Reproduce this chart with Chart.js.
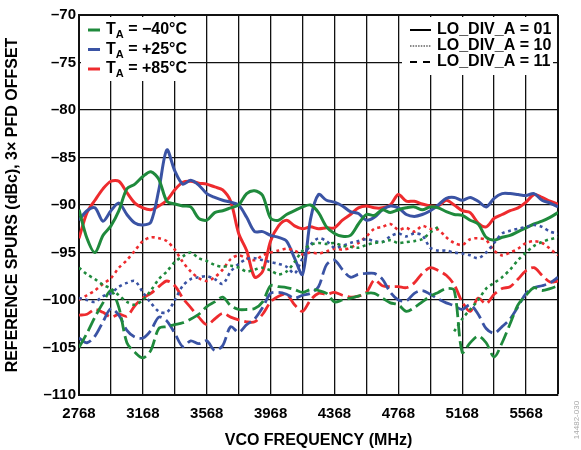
<!DOCTYPE html>
<html>
<head>
<meta charset="utf-8">
<script src="https://cdn.jsdelivr.net/npm/chart.js@4/dist/chart.umd.min.js"></script>
<style>
  body { margin: 0; background: #fff; }
  #wrap { width: 581px; height: 450px; }
</style>
</head>
<body>
<div id="wrap"><canvas id="chart" width="581" height="450"></canvas></div>
<script>
// VCO frequency points (MHz)
const freq = [2768,2818,2868,2918,2968,3018,3068,3118,3168,3218,
              3268,3318,3368,3418,3468,3518,3568,3618,3668,3718,
              3768,3818,3868,3918,3968,4018,4068,4118,4168,4218,
              4268,4318,4368,4418,4468,4518,4568,4618,4668,4718,
              4768,4818,4868,4918,4968,5018,5068,5118,5168,5218,
              5268,5318,5368,5418,5468,5518,5568,5618,5668,5718,
              5768]

// reference spurs (dBc), LO_DIV_A = 01 (solid)
const g01 = [-90.5,-93.5,-95.0,-93.2,-92.2,-90.6,-88.3,-87.8,-87.0,-86.5,
             -87.3,-89.6,-89.9,-90.1,-90.2,-91.4,-91.6,-90.8,-90.6,-90.3,
             -90.0,-88.8,-88.5,-89.0,-91.4,-91.6,-91.0,-90.6,-90.2,-90.0,
             -90.8,-92.3,-93.0,-93.3,-93.2,-92.0,-91.0,-91.1,-90.5,-90.8,
             -90.5,-90.3,-90.2,-90.5,-90.2,-90.3,-90.7,-91.0,-91.1,-91.6,
             -92.0,-93.4,-93.7,-93.4,-93.2,-92.8,-92.4,-92.0,-91.7,-91.3,
             -90.8]
const b01 = [-91.6,-90.6,-90.3,-91.7,-90.6,-89.8,-91.0,-91.9,-92.1,-91.8,
             -88.4,-84.2,-86.4,-87.8,-87.4,-87.9,-88.8,-89.2,-89.5,-89.7,
             -90.0,-91.3,-92.8,-92.8,-93.2,-93.4,-93.8,-95.6,-97.3,-91.5,
             -88.9,-89.5,-89.7,-90.1,-90.7,-90.9,-91.6,-91.3,-90.5,-90.1,
             -90.3,-91.0,-91.2,-91.0,-90.6,-90.0,-89.3,-89.2,-89.5,-89.2,
             -89.6,-90.2,-89.3,-88.8,-88.8,-88.9,-89.0,-88.8,-89.5,-89.8,
             -90.2]
const r01 = [-93.5,-90.8,-89.5,-88.3,-87.5,-87.5,-88.7,-89.8,-90.3,-90.5,
             -90.1,-89.5,-88.4,-87.6,-87.5,-87.7,-87.8,-88.1,-88.4,-89.6,
             -93.0,-94.8,-97.6,-97.0,-93.8,-92.2,-91.6,-92.2,-92.5,-92.3,
             -92.5,-92.4,-92.4,-91.6,-91.0,-90.3,-90.1,-90.3,-90.3,-90.0,
             -88.9,-89.6,-89.6,-89.9,-90.1,-90.1,-89.5,-90.0,-90.6,-90.8,
             -91.9,-92.3,-91.4,-91.0,-90.6,-90.3,-89.7,-88.9,-89.2,-89.6,
             -89.9]

// LO_DIV_A = 10 (dotted)
const g10 = [-96.6,-97.3,-97.8,-98.4,-98.8,-99.5,-100.2,-100.5,-100.0,-99.0,
             -97.8,-97.0,-96.0,-95.4,-95.0,-95.6,-95.9,-96.3,-96.5,-96.4,
             -96.6,-97.0,-96.8,-96.6,-96.9,-97.3,-97.0,-96.0,-94.8,-94.2,
             -94.0,-94.1,-94.0,-94.3,-94.4,-94.5,-94.2,-94.0,-93.9,-93.7,
             -94.0,-93.9,-93.8,-93.6,-92.9,-92.3,null,-103.3,-102.0,-101.0,
             -100.0,-98.8,-98.2,-97.6,-96.8,-95.8,-95.0,-94.3,-93.9,-93.6,
             -93.4]
const b10 = [-99.8,-100.0,-100.2,-99.6,-99.3,-98.6,-98.2,-98.0,-99.2,-100.3,
             -101.2,-101.3,-100.0,-98.5,-97.8,-97.6,-97.5,-97.8,-98.3,-97.0,
             -96.2,-95.7,-95.6,-95.8,-96.0,-96.2,-96.5,-97.2,-95.6,-94.2,
             -93.5,-93.8,-94.5,-94.3,-94.0,-93.8,-93.6,-93.8,-93.9,-93.3,
             -93.0,-93.3,-93.0,-93.2,-94.5,-94.8,-94.8,-95.0,-95.1,-95.3,
             -95.6,-95.0,-94.0,-93.0,-92.7,-92.5,-92.3,-92.1,-92.3,-92.8,
             -93.0]
const r10 = [-100.0,-99.5,-99.0,-98.3,-97.7,-96.6,-95.8,-94.8,-93.8,-93.4,
             -93.5,-93.8,-94.7,-96.0,-97.0,-97.7,-98.0,-97.6,-96.8,-95.7,
             -95.3,-95.6,-95.8,-95.3,-95.0,-94.8,-94.6,-94.8,-95.2,-95.0,
             -95.1,-94.9,-94.6,-94.7,-94.5,-94.0,-93.3,-92.5,-92.3,-92.0,
             -92.6,-92.4,-92.8,-92.2,-92.5,-92.6,-93.4,-94.0,-94.2,-93.6,
             -93.5,-93.7,-94.8,-95.3,-95.0,-94.6,-94.0,-93.8,-94.0,-94.6,
             -95.3]

// LO_DIV_A = 11 (dashed)
const g11 = [-105.0,-103.5,-101.8,-100.3,-99.0,-100.8,-104.5,-105.5,-106.1,-105.3,
             -103.0,-102.8,-102.6,-102.4,-102.0,-101.5,-100.7,-100.2,-99.7,-100.6,
             -101.0,-101.0,-100.9,-100.2,-98.5,-98.6,-98.7,-98.9,-99.2,-98.9,
             -99.0,-99.3,-100.2,-100.0,-99.8,-99.6,-99.3,-99.3,-99.8,-100.3,
             -100.5,-101.2,-100.8,-100.2,-99.6,-99.2,-98.8,-99.0,-105.5,-104.5,
             -103.8,-104.5,-106.0,-104.5,-102.5,-100.5,-99.5,-98.7,-99.0,-98.8,
             -98.5]
const b11 = [-104.0,-104.5,-103.8,-102.3,-100.9,-101.6,-103.2,-103.9,-104.0,-103.2,
             -101.8,-102.2,-103.5,-104.9,-104.3,-104.6,-104.3,-105.3,-104.8,-102.8,
             -103.4,-102.6,-102.0,-100.8,-99.3,-99.2,-99.4,-99.8,-99.5,-99.3,
             -98.6,-96.3,-95.8,-96.8,-97.6,-97.3,-97.2,-97.2,-97.8,-99.2,
             -100.0,-100.1,-99.3,-99.0,-99.4,-99.9,-100.3,-100.6,-101.0,-100.5,
             -101.5,-103.0,-103.5,-102.8,-102.0,-100.7,-99.3,-98.7,-98.5,-98.2,
             -97.6]
const r11 = [-101.6,-101.5,-101.0,-101.3,-101.8,-101.5,-101.7,-100.6,-99.8,-99.3,
             -98.6,-98.0,-98.5,-99.8,-100.8,-101.8,-102.6,-102.0,-101.4,-101.8,
             -102.1,-102.3,-102.3,-101.5,-100.2,-99.6,-99.4,-100.5,-101.2,-100.0,
             -99.3,-99.4,-99.2,-99.5,-99.7,-99.6,-99.2,-97.9,-98.5,-98.6,
             -98.6,-98.7,-98.2,-97.2,-96.6,-96.9,-97.4,-98.4,-100.2,-101.2,
             -99.8,-100.4,-99.4,-98.8,-98.6,-97.8,-96.9,-96.6,-97.4,-98.1,
             -98.0]

// axes
const xGrid = [2768,2968,3168,3368,3568,3768,3968,4168,4368,4568,4768,4968,5168,5368,5568,5768]
const xLabels = [2768,3168,3568,3968,4368,4768,5168,5568]
const tempNames = ['\u221240\u00b0C', '+25\u00b0C', '+85\u00b0C']
const divNames = ['LO_DIV_A = 01', 'LO_DIV_A = 10', 'LO_DIV_A = 11']

const GREEN = '#1f8a3c', BLUE = '#3a53a4', RED = '#ee2b2e'
const FONT = "'Liberation Sans', Arial, sans-serif"
Chart.defaults.font.family = FONT

function mk(arr, color, style) {
  let dash = [], w = 3
  if (style == 'dot') { dash = [3, 3.5]; w = 2.6 }
  if (style == 'dash') { dash = [14, 5]; w = 2.8 }
  return {
    data: freq.map((f, i) => ({ x: f, y: arr[i] })),
    borderColor: color, borderWidth: w, borderDash: dash,
    pointRadius: 0, tension: 0.3, fill: false, spanGaps: false
  }
}

const datasets = [
  mk(g10, GREEN, 'dot'), mk(b10, BLUE, 'dot'), mk(r10, RED, 'dot'),
  mk(g11, GREEN, 'dash'), mk(b11, BLUE, 'dash'), mk(r11, RED, 'dash'),
  mk(g01, GREEN), mk(b01, BLUE), mk(r01, RED)
]

// legend boxes drawn inside the plot
const legendBoxes = {
  id: 'legendBoxes',
  beforeDatasetsDraw(chart) {
    const c = chart.ctx
    c.save()
    c.fillStyle = '#fff'
    c.fillRect(81, 17, 107, 64)
    c.fillRect(402, 17, 151, 58)
    c.restore()
  },
  afterDraw(chart) {
    const c = chart.ctx
    c.save()
    c.textBaseline = 'middle'
    c.fillStyle = '#000'
    // temperatures
    const cols = [GREEN, BLUE, RED]
    tempNames.forEach((t, i) => {
      const y = 30 + i * 19.5
      c.strokeStyle = cols[i]; c.lineWidth = 3; c.setLineDash([])
      c.beginPath(); c.moveTo(88, y); c.lineTo(100, y); c.stroke()
      c.font = 'bold 16px ' + FONT
      c.fillText('T', 106, y)
      let x = 106 + c.measureText('T').width
      c.font = 'bold 11px ' + FONT
      c.fillText('A', x, y + 5)
      x += c.measureText('A').width
      c.font = 'bold 16px ' + FONT
      c.fillText(' = ' + t, x, y)
    })
    // LO divider styles
    const dashes = [[], [1.5, 1.2], [7, 6]]
    const lc = ['#000', '#888', '#000']
    divNames.forEach((d, i) => {
      const y = 30 + i * 16
      c.strokeStyle = lc[i]; c.lineWidth = i == 1 ? 1.8 : 2; c.setLineDash(dashes[i])
      c.beginPath(); c.moveTo(410, y); c.lineTo(431, y); c.stroke()
      c.font = 'bold 16px ' + FONT
      c.fillText(d, 437, y)
    })
    // figure id
    c.translate(577, 420); c.rotate(-Math.PI / 2)
    c.font = '8px ' + FONT; c.fillStyle = '#aaa'; c.textAlign = 'center'
    c.fillText('14482-030', 0, 0)
    c.restore()
  }
}

const tickFont = { size: 15, weight: 'bold', family: FONT }
const titleFont = { size: 16, weight: 'bold', family: FONT }

new Chart(document.getElementById('chart').getContext('2d'), {
  type: 'line',
  data: { datasets },
  options: {
    responsive: false,
    animation: false,
    layout: { padding: { top: 15, right: 23, left: 0, bottom: 0 } },
    plugins: { legend: { display: false }, tooltip: { enabled: false } },
    scales: {
      x: {
        type: 'linear', min: 2768, max: 5768,
        afterBuildTicks: s => { s.ticks = xGrid.map(v => ({ value: v })) },
        afterFit: s => { s.height = 55 },
        grid: { color: '#111', lineWidth: c => (c.tick && c.tick.value == 5768) ? 2 : 1.3, drawTicks: false },
        border: { color: '#111', width: 2 },
        ticks: { padding: 10, color: '#000', font: tickFont, maxRotation: 0, autoSkip: false,
                 callback: v => xLabels.includes(v) ? String(v) : '' },
        title: { display: true, text: 'VCO FREQUENCY (MHz)', color: '#000', font: titleFont, padding: { top: 0, bottom: 0 } }
      },
      y: {
        min: -110, max: -70,
        afterFit: s => { s.width = 79 },
        grid: { color: '#111', lineWidth: c => (c.tick && c.tick.value == -70) ? 2 : 1.3, drawTicks: false },
        border: { color: '#111', width: 2 },
        ticks: { stepSize: 5, padding: 3, color: '#000', font: tickFont,
                 callback: v => v < 0 ? '\u2013' + Math.abs(v) : String(v) },
        title: { display: true, text: 'REFERENCE SPURS (dBc), 3\u00d7 PFD OFFSET', color: '#000', font: titleFont, padding: { top: 3, bottom: 0 } }
      }
    }
  },
  plugins: [legendBoxes]
})
</script>
</body>
</html>
